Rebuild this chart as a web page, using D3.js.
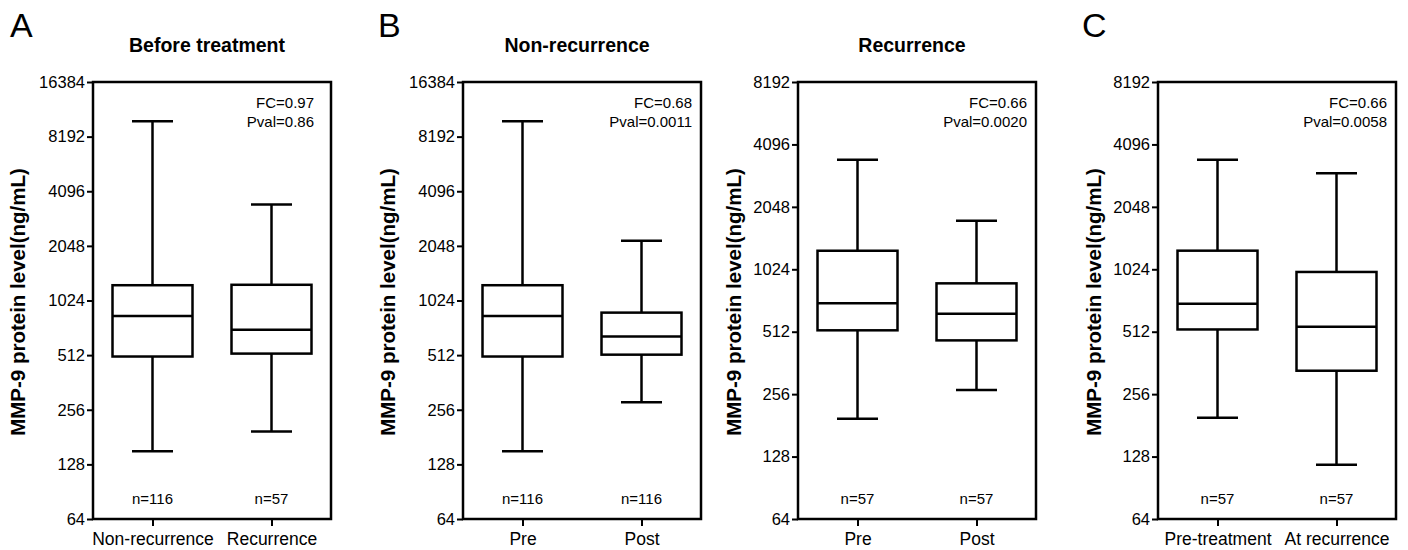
<!DOCTYPE html>
<html>
<head>
<meta charset="utf-8">
<script src="https://cdn.jsdelivr.net/npm/d3@7"></script>
<style>
body { margin: 0; background: #fff; }
text { font-family: "Liberation Sans", Arial, sans-serif; fill: #000; }
</style>
</head>
<body>
<svg id="chart" width="1408" height="550"></svg>
<script>
// 各面板数据
const titles = ["Before treatment", "Non-recurrence", "Recurrence", ""];
const letters = ["A", "B", "", "C"];
const categories = [
    ["Non-recurrence", "Recurrence"],
    ["Pre", "Post"],
    ["Pre", "Post"],
    ["Pre-treatment", "At recurrence"]
];
// [下须, Q1, 中位数, Q3, 上须]
const boxStats = [
    [[151, 503, 840, 1243, 9950], [194, 522, 706, 1250, 3461]],
    [[151, 503, 840, 1243, 9950], [282, 515, 649, 878, 2189]],
    [[195, 520, 702, 1258, 3456], [268, 465, 625, 876, 1757]],
    [[197, 525, 699, 1259, 3456], [117, 332, 541, 994, 2971]]
];
const counts = [[116, 57], [116, 116], [57, 57], [57, 57]];
const foldChange = ["0.97", "0.68", "0.66", "0.66"];
const pValues = ["0.86", "0.0011", "0.0020", "0.0058"];
const yMax = [16384, 16384, 8192, 8192];
const yMin = 64;
const yLabel = "MMP-9 protein level(ng/mL)";

// 布局
const frameLeft = [93, 463, 798, 1158];
const frameW = 238;
const plotTop = 82, plotBottom = 519;
const statInset = [17, 9, 9, 9];
const letterX = [10, 378, 0, 1082];
const labelOffset = [75, 75, 64, 64];
const boxW = 80, capW = 41;

const svg = d3.select('#chart');

function drawPanel(i) {
    const x0 = frameLeft[i];
    const g = svg.append('g');

    const y = d3.scaleLog().base(2).domain([yMin, yMax[i]]).range([plotBottom, plotTop]);
    const x = d3.scalePoint().domain(categories[i]).range([x0, x0 + frameW]).padding(0.5);

    //y轴 (2的幂)
    const ticks = [];
    for (let v = yMin; v <= yMax[i]; v *= 2) ticks.push(v);
    const yAxis = g.append('g')
        .attr('transform', `translate(${x0},0)`)
        .call(d3.axisLeft(y).tickValues(ticks).tickFormat(d3.format('d')).tickSize(6).tickPadding(2));
    yAxis.select('.domain').remove();
    yAxis.selectAll('line').attr('stroke', '#000').attr('stroke-width', 2);
    yAxis.selectAll('text').style('font-size', '16.5px').attr('fill', '#000');

    //x轴
    const xAxis = g.append('g')
        .attr('transform', `translate(0,${plotBottom})`)
        .call(d3.axisBottom(x).tickSize(7).tickPadding(7));
    xAxis.select('.domain').remove();
    xAxis.selectAll('line').attr('stroke', '#000').attr('stroke-width', 2);
    xAxis.selectAll('text').style('font-size', '17.5px').attr('fill', '#000');

    //边框
    g.append('rect')
        .attr('x', x0).attr('y', plotTop)
        .attr('width', frameW).attr('height', plotBottom - plotTop)
        .attr('fill', 'none').attr('stroke', '#000').attr('stroke-width', 2.5);

    //箱线
    const boxes = g.selectAll('g.box')
        .data(boxStats[i].map((s, j) => ({ cat: categories[i][j], s, n: counts[i][j] })))
        .join('g').attr('class', 'box');

    boxes.each(function (d) {
        const b = d3.select(this);
        const cx = x(d.cat);
        const [lo, q1, med, q3, hi] = d.s;
        const line = (x1, y1, x2, y2) => b.append('line')
            .attr('x1', x1).attr('y1', y1).attr('x2', x2).attr('y2', y2)
            .attr('stroke', '#000').attr('stroke-width', 2.5);
        line(cx, y(hi), cx, y(q3));
        line(cx, y(q1), cx, y(lo));
        line(cx - capW / 2, y(hi), cx + capW / 2, y(hi));
        line(cx - capW / 2, y(lo), cx + capW / 2, y(lo));
        b.append('rect')
            .attr('x', cx - boxW / 2).attr('y', y(q3))
            .attr('width', boxW).attr('height', y(q1) - y(q3))
            .attr('fill', '#fff').attr('stroke', '#000').attr('stroke-width', 2.5);
        line(cx - boxW / 2, y(med), cx + boxW / 2, y(med));
        b.append('text')
            .attr('x', cx).attr('y', 504)
            .attr('text-anchor', 'middle')
            .style('font-size', '15px')
            .text(`n=${d.n}`);
    });

    //FC 和 P值
    const sx = x0 + frameW - statInset[i];
    g.append('text').attr('x', sx).attr('y', 108).attr('text-anchor', 'end')
        .style('font-size', '15px').text(`FC=${foldChange[i]}`);
    g.append('text').attr('x', sx).attr('y', 127).attr('text-anchor', 'end')
        .style('font-size', '15px').text(`Pval=${pValues[i]}`);

    //标题
    if (titles[i]) {
        g.append('text')
            .attr('x', x0 + frameW / 2 - 5).attr('y', 52)
            .attr('text-anchor', 'middle')
            .style('font-size', '19.5px').style('font-weight', 'bold')
            .text(titles[i]);
    }
    if (letters[i]) {
        g.append('text')
            .attr('x', letterX[i]).attr('y', 37)
            .style('font-size', '34px')
            .text(letters[i]);
    }

    //y轴标签
    g.append('text')
        .attr('transform', `translate(${x0 - labelOffset[i]},302) rotate(-90)`)
        .attr('dy', '0.35em')
        .attr('text-anchor', 'middle')
        .style('font-size', '20.5px').style('font-weight', 'bold')
        .text(yLabel);
}

for (let i = 0; i < 4; i++) drawPanel(i);
</script>
</body>
</html>
